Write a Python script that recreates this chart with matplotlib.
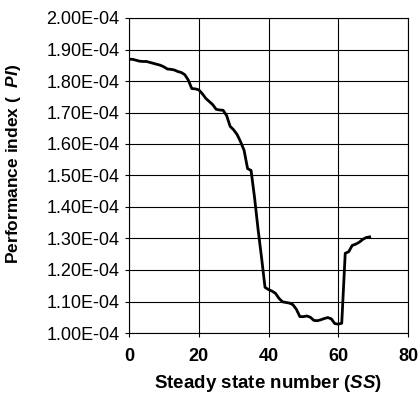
import matplotlib
matplotlib.use("Agg")
import matplotlib.pyplot as plt
import numpy as np

ss = list(range(0, 70))
pi_e4 = [1.869, 1.869, 1.866, 1.863, 1.862, 1.862, 1.859, 1.856, 1.853, 1.850,
         1.845, 1.838, 1.837, 1.835, 1.830, 1.827, 1.820, 1.803, 1.776, 1.775,
         1.772, 1.760, 1.745, 1.735, 1.725, 1.710, 1.708, 1.707, 1.690, 1.656,
         1.645, 1.630, 1.607, 1.580, 1.522, 1.516, 1.430, 1.330, 1.240, 1.145,
         1.138, 1.133, 1.126, 1.110, 1.099, 1.097, 1.095, 1.090, 1.075, 1.052,
         1.052, 1.054, 1.050, 1.040, 1.039, 1.042, 1.046, 1.049, 1.045, 1.030,
         1.028, 1.031, 1.253, 1.258, 1.278, 1.282, 1.288, 1.297, 1.303, 1.305]
pi = [v * 1e-4 for v in pi_e4]

x_ticks = [0, 20, 40, 60, 80]
y_ticks = [1.0e-4 + i * 1e-5 for i in range(11)]
y_tick_labels = ["%.2fE-04" % (v * 1e4) for v in y_ticks]

plt.rcParams['font.family'] = ['Liberation Sans', 'DejaVu Sans']
plt.rcParams['mathtext.fontset'] = 'custom'
plt.rcParams['mathtext.it'] = 'Liberation Sans:italic:bold'
plt.rcParams['mathtext.rm'] = 'Liberation Sans:bold'

fig = plt.figure(figsize=(4.2, 3.97), dpi=100)
ax = fig.add_axes([129/420, 1 - 333/397, (408-129)/420, (333-18)/397])

ax.plot(ss, pi, color='black', linewidth=2.0, zorder=3)

ax.set_xlim(0, 80)
ax.set_ylim(1.0e-4, 2.0e-4)
ax.set_xticks(x_ticks)
ax.set_xticklabels([str(t) for t in x_ticks], fontsize=13, fontweight='bold')
ax.set_yticks(y_ticks)
ax.set_yticklabels(y_tick_labels, fontsize=13)
ax.grid(True, color='black', linewidth=0.8)
ax.tick_params(axis='both', direction='out', length=3, width=0.8, color='black')
ax.tick_params(axis='x', pad=8)
ax.tick_params(axis='y', pad=4)
for s in ax.spines.values():
    s.set_linewidth(0.8)
    s.set_color('black')

ax.set_xlabel("Steady state number ($SS$)", fontsize=13.5, fontweight='bold')
ax.set_ylabel("Performance index (  $PI$)", fontsize=12.5, fontweight='bold')
ax.xaxis.set_label_coords((268.5 - 129) / 279, (333 - 373) / 315)
ax.yaxis.set_label_coords((23 - 129) / 279, (333 - 164) / 315)

fig.savefig("out.png", dpi=100)
